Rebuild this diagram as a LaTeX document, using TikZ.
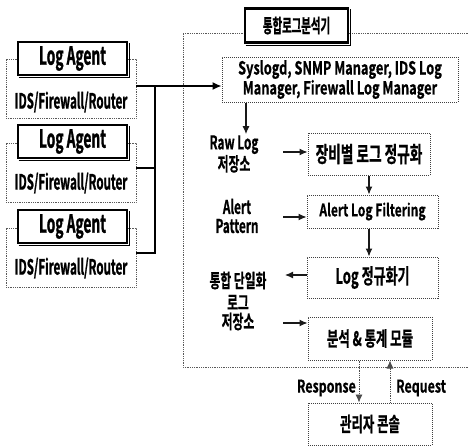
\documentclass[tikz,border=0pt]{standalone}
\usepackage{fontspec}
% condensed heavy face for all labels, in three widths
\setmainfont{Noto Sans CJK KR Bold}[FakeStretch=0.62, FakeBold=0.6]
\newfontfamily\narrowface{Noto Sans CJK KR Bold}[FakeStretch=0.55, FakeBold=1]
\newfontfamily\wideface{Noto Sans CJK KR Bold}[FakeStretch=0.71, FakeBold=0.6]
\usetikzlibrary{arrows.meta}

\begin{document}
\begin{tikzpicture}[x=1pt,y=-1pt,
  fs/.style={font=\fontsize{#1}{#1}\selectfont},
  fsn/.style={font=\narrowface\fontsize{#1}{#1}\selectfont},
  fsw/.style={font=\wideface\fontsize{#1}{#1}\selectfont},
  heavybox/.style={draw=black, line width=2.2pt, fill=white, inner sep=0pt},
  shade/.style={draw=black, line width=1.2pt},
  dotbox/.style={draw=black!75, densely dotted, line width=1pt, fill=white, inner sep=0pt},
  grpbox/.style={draw=black!65, densely dotted, line width=0.8pt, inner sep=0pt},
  link/.style={line width=1.3pt, black},
  flow/.style={line width=1.1pt, black!90, -{Latex[length=8pt,width=7pt]}},
  reply/.style={line width=0.8pt, black!70, densely dotted, -{Latex[length=8pt,width=7pt]}},
  lbl/.style={fs=#1, align=center, inner sep=1pt},
]
\useasboundingbox (0,0) rectangle (468,447);

% collector groups: agent box on a dotted device frame
\foreach \i/\gy/\ay/\ty in {1/88.5/58.5/102, 2/172.5/141.5/183, 3/257.5/226.5/268}{
  \node[grpbox, minimum width=130, minimum height=59] (grp\i) at (71,\gy) {};
  \node[heavybox, minimum width=109, minimum height=33, fsn=25] (agent\i) at (72.5,\ay) {Log Agent};
  \draw[shade] ([xshift=1.6pt,yshift=-1.6pt]agent\i.south west) -- ([xshift=1.6pt,yshift=-1.6pt]agent\i.south east)
               -- ([xshift=1.6pt,yshift=-1.6pt]agent\i.north east);
  \node[fsn=21, inner sep=1pt] (dev\i) at (71,\ty) {IDS/Firewall/Router};
}

% analyzer frame (open on the right) and its title
\coordinate (ftl) at (183,33);
\coordinate (fbl) at (183,367);
\coordinate (fbr) at (470,367);
\coordinate (ftr) at (470,33);
\draw[grpbox] (ftr) -- (ftl) -- (fbl) -- (fbr);
\node[heavybox, minimum width=103, minimum height=34, fsn=19] (title) at (296.5,25.5) {통합로그분석기};
\draw[shade] ([xshift=1.6pt,yshift=-1.6pt]title.south west) -- ([xshift=1.6pt,yshift=-1.6pt]title.south east)
             -- ([xshift=1.6pt,yshift=-1.6pt]title.north east);

% processing stages
\node[dotbox, minimum width=236, minimum height=45, align=center, fsw=18] (sys) at (340,79.5)
  {Syslogd, SNMP Manager, IDS Log\\Manager, Firewall Log Manager};
\node[dotbox, minimum width=122, minimum height=42, fs=22] (b1) at (369,154) {장비별 로그 정규화};
\node[dotbox, minimum width=131, minimum height=33, fsw=17] (b2) at (372.5,211.5) {Alert Log Filtering};
\node[dotbox, minimum width=131, minimum height=41, fs=21] (b3) at (372.5,277.5) {Log 정규화기};
\node[dotbox, minimum width=124, minimum height=43, fs=20] (b4) at (370,338.5) {분석 \& 통계 모듈};
\node[dotbox, minimum width=124, minimum height=42, fs=20] (mgr) at (370,424) {관리자 콘솔};

% side stores and patterns
\node[lbl=19] (raw) at (234,154) {Raw Log\\저장소};
\node[lbl=19] (pat) at (237,216) {Alert\\Pattern};
\node[lbl=19] (store) at (238,301) {통합 단일화\\[3pt]로그\\저장소};

% agent bus into the analyzer
\coordinate (j1) at (155,86);
\coordinate (j2) at (155,168);
\coordinate (j3) at (155,253);
\draw[link] (grp1.east |- j1) -- (j1);
\draw[link] (grp2.east |- j2) -- (j2);
\draw[link] (grp3.east |- j3) -- (j3) -- (j1);
\draw[link, -{Latex[length=9pt,width=8pt]}] (j1) -- (sys.west |- j1);

% flow inside the analyzer
\coordinate (tap) at (246,102);
\draw[flow] (sys.south -| tap) -- (tap |- raw.north);
\coordinate (s1) at (283,152);
\coordinate (s2) at (283,217);
\coordinate (s3) at (285,275);
\coordinate (s4) at (283,323);
\draw[flow] (s1) -- (b1.west |- s1);
\draw[flow] (s2) -- (b2.west |- s2);
\draw[flow] (b3.west |- s3) -- (s3);
\draw[flow] (s4) -- (b4.west |- s4);
\draw[flow] (b1.south) -- (b1.south |- b2.north);
\draw[flow] (b2.south -| b1.south) -- (b3.north -| b1.south);

% console exchange
\coordinate (rsp) at (359,0);
\coordinate (rqs) at (390,0);
\draw[reply] (b4.south -| rsp) -- (mgr.north -| rsp);
\draw[reply] (mgr.north -| rqs) -- (b4.south -| rqs);
\node[fsw=17.5, anchor=east, inner sep=1pt] (resp) at (357,388) {Response};
\node[fsw=17.5, anchor=west, inner sep=1pt] (req) at (395,388) {Request};
\end{tikzpicture}
\end{document}
